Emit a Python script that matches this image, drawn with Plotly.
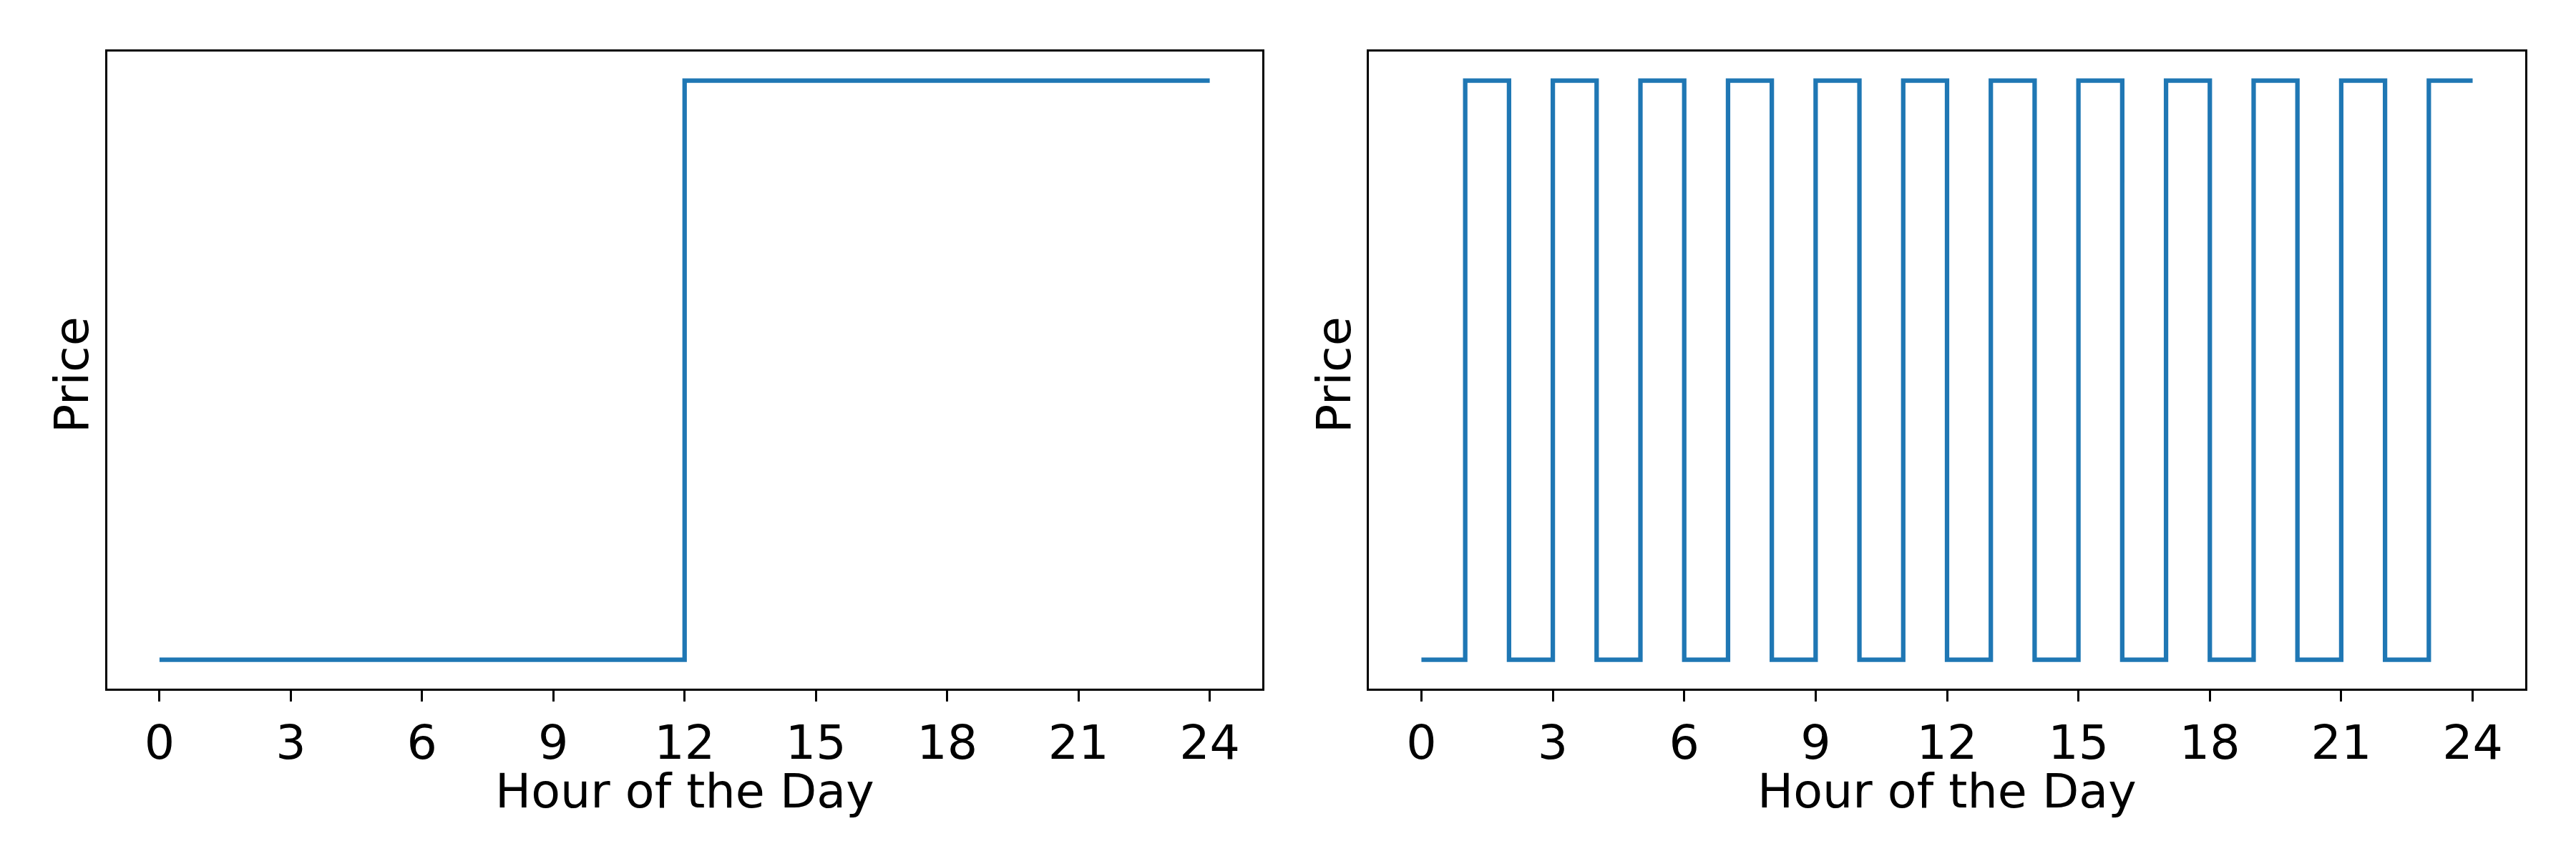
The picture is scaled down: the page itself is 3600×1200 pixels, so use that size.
import plotly.graph_objects as go

hours = list(range(25))
price_left = [0]*12 + [1]*13
price_right = [0, 1, 0, 1, 0, 1, 0, 1, 0, 1, 0, 1, 0, 1, 0, 1, 0, 1, 0, 1, 0, 1, 0, 1, 1]
tick_vals = [0, 3, 6, 9, 12, 15, 18, 21, 24]
tick_text = [str(v) for v in tick_vals]
x_title = "Hour of the Day"
y_title = "Price"

W, H = 3600, 1200
FONT = "DejaVu Sans"
FS = 66.7
BLUE = "#1f77b4"

fig = go.Figure()
fig.add_trace(go.Scatter(x=hours, y=price_left, mode="lines", line=dict(shape="hv", color=BLUE, width=6.25),
                         xaxis="x", yaxis="y", showlegend=False, hoverinfo="skip"))
fig.add_trace(go.Scatter(x=hours, y=price_right, mode="lines", line=dict(shape="hv", color=BLUE, width=6.25),
                         xaxis="x2", yaxis="y2", showlegend=False, hoverinfo="skip"))

ydom = [1 - 962/H, 1 - 72.3/H]
xcommon = dict(range=[-1.2, 25.2], tickvals=tick_vals, ticktext=tick_text, ticks="outside", ticklen=14.6,
               tickwidth=3.3, tickcolor="black", showline=True, linewidth=3.3, linecolor="black", mirror=True,
               showgrid=False, zeroline=False, tickfont=dict(family=FONT, size=FS, color="black"))
ycommon = dict(range=[-0.05, 1.05], showticklabels=False, ticks="", showline=True, linewidth=3.3,
               linecolor="black", mirror=True, showgrid=False, zeroline=False)

xdom1 = [149.5/W, 1764/W]
xdom2 = [1913/W, 3529/W]

tfont = dict(family=FONT, size=FS, color="black")
annotations = []
for dom, px in ((xdom1, 100), (xdom2, 1864)):
    annotations.append(dict(text=x_title, xref="paper", yref="paper", x=(dom[0]+dom[1])/2, y=1-1105/H,
                            xanchor="center", yanchor="middle", showarrow=False, font=tfont, borderpad=0))
    annotations.append(dict(text=y_title, xref="paper", yref="paper", x=px/W, y=1-524/H, textangle=-90,
                            xanchor="center", yanchor="middle", showarrow=False, font=tfont, borderpad=0))

fig.update_layout(
    width=W, height=H, margin=dict(l=0, r=0, t=0, b=0),
    paper_bgcolor="white", plot_bgcolor="white",
    xaxis=dict(domain=xdom1, anchor="y", **xcommon),
    yaxis=dict(domain=ydom, anchor="x", **ycommon),
    xaxis2=dict(domain=xdom2, anchor="y2", **xcommon),
    yaxis2=dict(domain=ydom, anchor="x2", **ycommon),
    annotations=annotations,
)
fig.write_html("out.html", config={"displayModeBar": False},
               post_script="document.body.style.margin='0';")
